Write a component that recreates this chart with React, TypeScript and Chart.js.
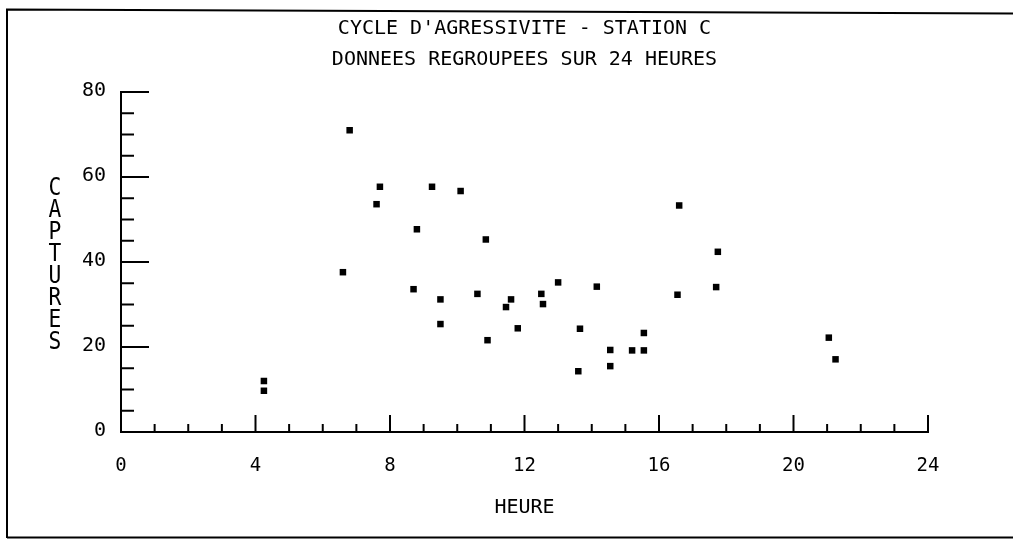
import React, { useEffect, useRef } from "react";
import { Chart, registerables } from "chart.js";

Chart.register(...registerables);

// ---- data ----
const heures: number[] = [
  4.25, 4.25, 6.6, 6.8, 7.7, 7.6, 8.8, 8.7, 9.25, 9.5, 9.5, 10.1, 10.85, 10.6, 10.9,
  11.6, 11.45, 11.8, 12.5, 12.55, 13.0, 13.65, 13.6, 14.15, 14.55, 14.55, 15.2, 15.55,
  15.55, 16.6, 16.55, 17.75, 17.7, 21.05, 21.25,
];
const captures: number[] = [
  12, 9.7, 37.6, 71, 57.7, 53.6, 47.7, 33.6, 57.7, 31.2, 25.4, 56.7, 45.3, 32.5, 21.6,
  31.2, 29.4, 24.4, 32.5, 30.1, 35.2, 24.3, 14.3, 34.2, 19.3, 15.5, 19.2, 19.2,
  23.3, 53.3, 32.3, 42.4, 34.1, 22.2, 17.1,
];
const titleLines: string[] = ["CYCLE D'AGRESSIVITE - STATION C", "DONNEES REGROUPEES SUR 24 HEURES"];
const xAxisTitle = "HEURE";
const yAxisTitle = "CAPTURES";
const yTickLabels: string[] = ["0", "20", "40", "60", "80"];
const xMin = 0, xMax = 24, xStep = 4, xMinorStep = 1;
const yMin = 0, yMax = 80, yStep = 20, yMinorStep = 5;

const MONO = '"DejaVu Sans Mono", monospace';

const decorPlugin = {
  id: "decor",
  afterDraw(chart: any) {
    const { ctx, chartArea, scales } = chart;
    const xs = scales.x;
    const ys = scales.y;
    ctx.save();
    ctx.strokeStyle = "#000";
    ctx.lineCap = "butt";
    // frame
    ctx.lineWidth = 2;
    ctx.beginPath();
    ctx.moveTo(7, 538);
    ctx.lineTo(7, 9.5);
    ctx.lineTo(1013, 13.5);
    ctx.moveTo(7, 537.5);
    ctx.lineTo(1013, 537.5);
    ctx.stroke();
    // y ticks (inside, to the right)
    for (let v = yMin; v <= yMax; v += yMinorStep) {
      const py = ys.getPixelForValue(v);
      const major = v % yStep === 0;
      ctx.lineWidth = 2;
      ctx.beginPath();
      ctx.moveTo(chartArea.left, py);
      ctx.lineTo(chartArea.left + (major ? 28 : 13), py);
      ctx.stroke();
    }
    // x ticks (inside, upward)
    for (let v = xMin; v <= xMax; v += xMinorStep) {
      const px = xs.getPixelForValue(v);
      const major = v % xStep === 0;
      ctx.lineWidth = 2;
      ctx.beginPath();
      ctx.moveTo(px, chartArea.bottom);
      ctx.lineTo(px, chartArea.bottom - (major ? 17 : 8));
      ctx.stroke();
    }
    ctx.fillStyle = "#000";
    // y tick labels
    ctx.font = `20px ${MONO}`;
    ctx.textAlign = "right";
    ctx.textBaseline = "middle";
    yTickLabels.forEach((lab) => {
      const v = Number(lab);
      ctx.fillText(lab, chartArea.left - 15, ys.getPixelForValue(v) - 1);
    });
    // stacked y-axis title
    ctx.font = `25px ${MONO}`;
    ctx.textAlign = "center";
    ctx.textBaseline = "middle";
    const letters = yAxisTitle.split("");
    const cx = 55;
    const y0 = 188;
    const pitch = 22;
    letters.forEach((ch, i) => {
      ctx.save();
      ctx.translate(cx, y0 + i * pitch);
      ctx.scale(0.85, 1);
      ctx.fillText(ch, 0, 0);
      ctx.restore();
    });
    ctx.restore();
  },
};

export default function App() {
  const ref = useRef<HTMLCanvasElement | null>(null);
  useEffect(() => {
    if (!ref.current) return;
    const points = heures.map((h, i) => ({ x: h, y: captures[i] }));
    const chart = new Chart(ref.current, {
      type: "scatter",
      data: {
        datasets: [
          {
            data: points,
            pointStyle: "rect",
            pointRadius: 4.6,
            pointHoverRadius: 4.6,
            backgroundColor: "#000",
            borderColor: "#000",
            borderWidth: 0,
          },
        ],
      },
      options: {
        responsive: false,
        animation: false,
        events: [],
        layout: { padding: { left: 121, right: 85, top: 0, bottom: 0 } },
        plugins: {
          legend: { display: false },
          tooltip: { enabled: false },
          title: {
            display: true,
            text: titleLines,
            color: "#000",
            font: { family: MONO, size: 20, weight: "normal", lineHeight: 1.55 },
            padding: { top: 13.5, bottom: 16.5 },
          },
        },
        scales: {
          x: {
            type: "linear",
            min: xMin,
            max: xMax,
            afterFit: (s: any) => { s.height = 107; },
            grid: { display: false, drawTicks: false },
            border: { display: true, color: "#000", width: 2 },
            ticks: {
              stepSize: xStep,
              color: "#000",
              padding: 23,
              font: { family: MONO, size: 19 },
              maxRotation: 0,
            },
            title: {
              display: true,
              text: xAxisTitle,
              color: "#000",
              font: { family: MONO, size: 20, lineHeight: 1.2 },
              padding: { top: 0, bottom: 19 },
            },
          },
          y: {
            type: "linear",
            min: yMin,
            max: yMax,
            afterFit: (s: any) => { s.width = 0; },
            grid: { display: false, drawTicks: false },
            border: { display: true, color: "#000", width: 2 },
            ticks: {
              stepSize: yStep,
              display: false,
            },
          },
        },
      },
      plugins: [decorPlugin],
    });
    return () => chart.destroy();
  }, []);
  return (
    <div style={{ position: "fixed", left: 0, top: 0, width: 1013, height: 539, background: "#fff" }}>
      <canvas ref={ref} width={1013} height={539} style={{ display: "block" }} />
    </div>
  );
}
